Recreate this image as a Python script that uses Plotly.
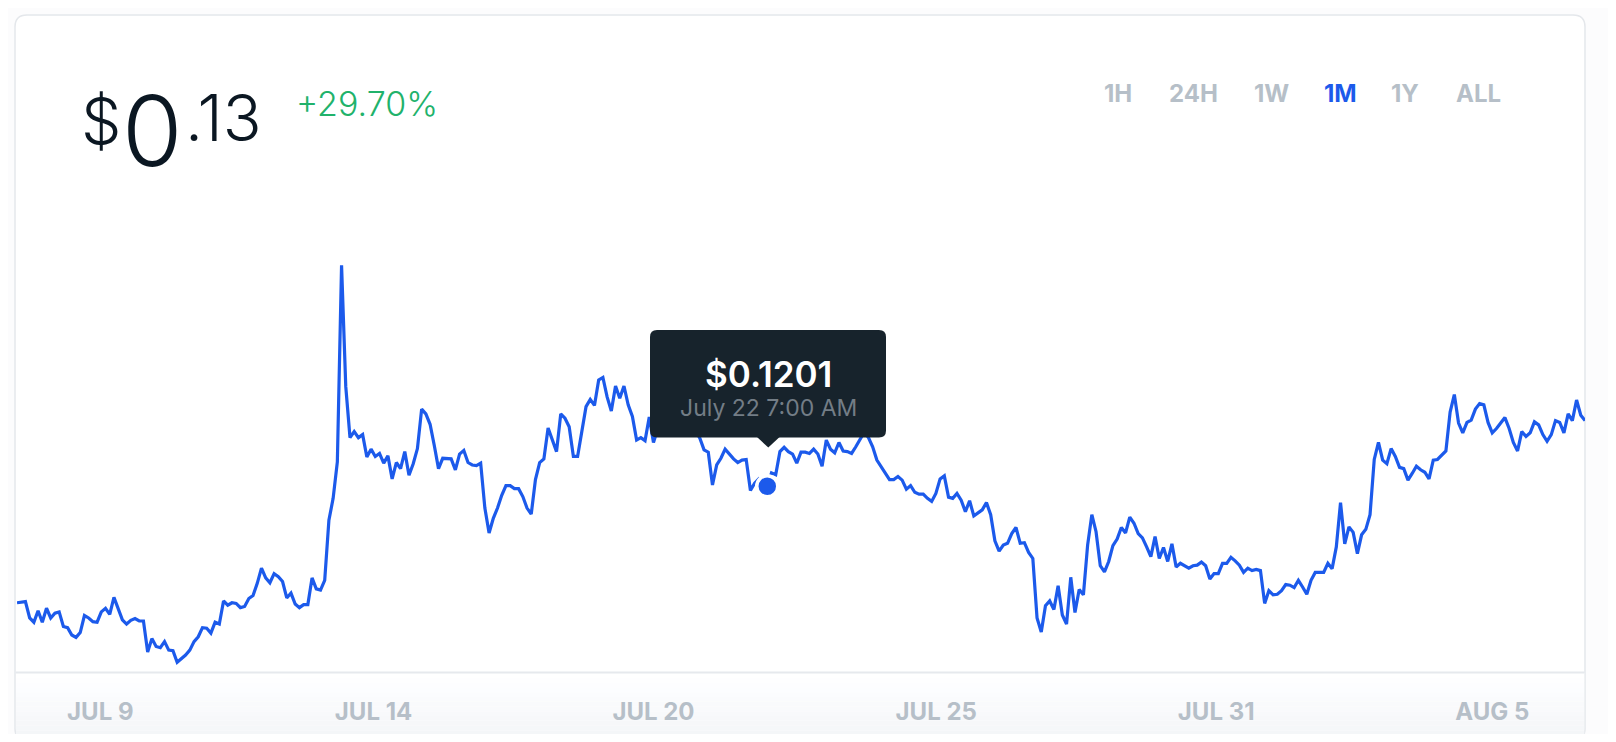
import plotly.graph_objects as go
import pandas as pd

# ---------------- data ----------------
start_time = "2018-07-07 11:00"
step = "2h"
price = [
    0.1009, 0.1010, 0.1011, 0.0984, 0.0977, 0.0996, 0.0977, 0.1000, 0.0984, 0.0992,
    0.0994, 0.0970, 0.0968, 0.0956, 0.0952, 0.0960, 0.0988, 0.0984, 0.0978, 0.0977,
    0.0994, 0.1000, 0.0990, 0.1018, 0.1000, 0.0981, 0.0974, 0.0980, 0.0983, 0.0979,
    0.0979, 0.0928, 0.0950, 0.0937, 0.0935, 0.0945, 0.0931, 0.0930, 0.0911, 0.0917,
    0.0923, 0.0931, 0.0945, 0.0953, 0.0968, 0.0967, 0.0959, 0.0977, 0.0974, 0.1012,
    0.1005, 0.1009, 0.1008, 0.1001, 0.1003, 0.1016, 0.1021, 0.1041, 0.1066, 0.1050,
    0.1042, 0.1057, 0.1052, 0.1044, 0.1017, 0.1025, 0.1007, 0.1001, 0.1006, 0.1006,
    0.1050, 0.1032, 0.1030, 0.1046, 0.1145, 0.1181, 0.1241, 0.1565, 0.1365, 0.1281,
    0.1291, 0.1281, 0.1286, 0.1249, 0.1262, 0.1250, 0.1255, 0.1239, 0.1251, 0.1213,
    0.1240, 0.1230, 0.1258, 0.1219, 0.1238, 0.1263, 0.1328, 0.1320, 0.1303, 0.1268,
    0.1230, 0.1247, 0.1247, 0.1246, 0.1228, 0.1254, 0.1260, 0.1240, 0.1236, 0.1235,
    0.1239, 0.1165, 0.1124, 0.1148, 0.1165, 0.1186, 0.1202, 0.1202, 0.1197, 0.1197,
    0.1184, 0.1165, 0.1155, 0.1212, 0.1240, 0.1246, 0.1297, 0.1277, 0.1258, 0.1320,
    0.1313, 0.1299, 0.1250, 0.1250, 0.1291, 0.1332, 0.1344, 0.1334, 0.1376, 0.1380,
    0.1348, 0.1325, 0.1366, 0.1346, 0.1366, 0.1335, 0.1316, 0.1277, 0.1281, 0.1276,
    0.1315, 0.1273, 0.1295, 0.1310, 0.1302, 0.1318, 0.1325, 0.1312, 0.1320, 0.1308,
    0.1300, 0.1292, 0.1280, 0.1261, 0.1257, 0.1203, 0.1236, 0.1247, 0.1262, 0.1254,
    0.1246, 0.1240, 0.1244, 0.1245, 0.1194, 0.1206, 0.1213, 0.1208, 0.1201, 0.1223,
    0.1220, 0.1258, 0.1265, 0.1258, 0.1254, 0.1239, 0.1257, 0.1257, 0.1255, 0.1262,
    0.1254, 0.1234, 0.1277, 0.1262, 0.1256, 0.1273, 0.1259, 0.1258, 0.1255, 0.1266,
    0.1278, 0.1290, 0.1281, 0.1266, 0.1244, 0.1234, 0.1222, 0.1212, 0.1212, 0.1217,
    0.1211, 0.1196, 0.1202, 0.1191, 0.1188, 0.1188, 0.1181, 0.1176, 0.1189, 0.1213,
    0.1218, 0.1183, 0.1181, 0.1189, 0.1178, 0.1159, 0.1177, 0.1152, 0.1157, 0.1162,
    0.1174, 0.1154, 0.1111, 0.1094, 0.1104, 0.1107, 0.1123, 0.1133, 0.1107, 0.1108,
    0.1092, 0.1082, 0.0984, 0.0961, 0.1004, 0.1012, 0.0998, 0.1037, 0.0989, 0.0974,
    0.1051, 0.0993, 0.1031, 0.1022, 0.1104, 0.1154, 0.1126, 0.1070, 0.1060, 0.1077,
    0.1103, 0.1114, 0.1133, 0.1124, 0.1150, 0.1140, 0.1123, 0.1116, 0.1101, 0.1085,
    0.1118, 0.1082, 0.1100, 0.1077, 0.1106, 0.1068, 0.1074, 0.1070, 0.1066, 0.1070,
    0.1071, 0.1076, 0.1070, 0.1048, 0.1057, 0.1057, 0.1074, 0.1074, 0.1084, 0.1078,
    0.1071, 0.1059, 0.1066, 0.1062, 0.1064, 0.1062, 0.1008, 0.1029, 0.1022, 0.1023,
    0.1029, 0.1039, 0.1038, 0.1034, 0.1046, 0.1035, 0.1023, 0.1046, 0.1059, 0.1059,
    0.1059, 0.1074, 0.1065, 0.1101, 0.1174, 0.1106, 0.1134, 0.1125, 0.1090, 0.1121,
    0.1130, 0.1154, 0.1245, 0.1273, 0.1244, 0.1238, 0.1263, 0.1250, 0.1232, 0.1230,
    0.1211, 0.1222, 0.1234, 0.1228, 0.1224, 0.1213, 0.1244, 0.1245, 0.1252, 0.1259,
    0.1323, 0.1352, 0.1305, 0.1289, 0.1306, 0.1310, 0.1328, 0.1337, 0.1335, 0.1306,
    0.1289, 0.1296, 0.1305, 0.1314, 0.1296, 0.1273, 0.1259, 0.1291, 0.1283, 0.1289,
    0.1307, 0.1302, 0.1286, 0.1275, 0.1286, 0.1309, 0.1306, 0.1289, 0.1320, 0.1309,
    0.1343, 0.1318, 0.1309,
]

hover_time = "2018-07-22 07:00"
hover_price = 0.1201
hover_price_text = "$0.1201"
hover_date_text = "July 22 7:00 AM"

tick_times = ["2018-07-09 02:30", "2018-07-14 12:10", "2018-07-20 01:00",
              "2018-07-25 15:10", "2018-07-31 04:00", "2018-08-05 15:00"]
tick_labels = ["JUL 9", "JUL 14", "JUL 20", "JUL 25", "JUL 31", "AUG 5"]

price_symbol = "$"
price_int = "0"
price_dec = ".13"
change_text = "+29.70%"
range_labels = ["1H", "24H", "1W", "1M", "1Y", "ALL"]
active_range = "1M"

times = pd.date_range(start_time, periods=len(price), freq=step)

# ---------------- layout helpers ----------------
# the page has an 8px body margin; the figure is placed at page (8, 8)
OFF = 8
W, H = 1600, 726
ML, MR, MT, MB = 9, 23, 232, 62
PW = W - ML - MR
PH = H - MT - MB


def px(x):
    """page x pixel -> paper x"""
    return (x - OFF - ML) / PW


def py(y):
    """page y pixel -> paper y"""
    return (H - MB - (y - OFF)) / PH


def rounded_path(x0, y0, x1, y1, r):
    pts = [
        ("M", [(x0 + r, y0)]), ("L", [(x1 - r, y0)]), ("Q", [(x1, y0), (x1, y0 + r)]),
        ("L", [(x1, y1 - r)]), ("Q", [(x1, y1), (x1 - r, y1)]), ("L", [(x0 + r, y1)]),
        ("Q", [(x0, y1), (x0, y1 - r)]), ("L", [(x0, y0 + r)]), ("Q", [(x0, y0), (x0 + r, y0)]),
    ]
    s = ""
    for cmd, ps in pts:
        s += cmd + " " + " ".join(f"{px(a):.6f},{py(b):.6f}" for a, b in ps) + " "
    return s + "Z"


BLUE = "#1c5aeb"
GRAY = "#b6bfc8"

fig = go.Figure()
fig.add_trace(go.Scatter(
    x=times, y=price, mode="lines",
    line=dict(color=BLUE, width=3.2), hoverinfo="skip", showlegend=False,
))
fig.add_trace(go.Scatter(
    x=[pd.Timestamp(hover_time)], y=[hover_price], mode="markers",
    marker=dict(color=BLUE, size=21, line=dict(color="white", width=3.5)),
    hoverinfo="skip", showlegend=False,
))

shapes = []
# card
shapes.append(dict(type="path", xref="paper", yref="paper", layer="below",
                   path=rounded_path(15, 15, 1585, 740.5, 12),
                   fillcolor="white", line=dict(color="#e4e7eb", width=1.5)))
# x-axis band with vertical gradient
n = 14
y_top, y_bot = 673.0, 740.0
for i in range(n):
    t = i / (n - 1)
    c = int(round(255 - 12 * t))
    c2 = int(round(255 - 10 * t))
    ya = y_top + (y_bot - y_top) * i / n
    yb = y_top + (y_bot - y_top) * (i + 1) / n
    shapes.append(dict(type="rect", xref="paper", yref="paper", layer="below",
                       x0=px(16), x1=px(1584.3), y0=py(ya), y1=py(yb),
                       fillcolor=f"rgb({c},{c2},{min(255, c2 + 2)})", line=dict(width=0)))
shapes.append(dict(type="line", xref="paper", yref="paper", layer="below",
                   x0=px(15.5), x1=px(1584.5), y0=py(672.5), y1=py(672.5),
                   line=dict(color="#e6e9ed", width=2)))
shapes.append(dict(type="line", xref="paper", yref="paper", layer="below",
                   x0=px(15.5), x1=px(1584.5), y0=py(740), y1=py(740),
                   line=dict(color="#e0e3e7", width=1.5)))
# tooltip
TIP = "#17232c"
shapes.append(dict(type="path", xref="paper", yref="paper", layer="above",
                   path=rounded_path(650, 330, 886, 437.5, 7),
                   fillcolor=TIP, line=dict(width=0)))
tri = (f"M {px(757):.6f},{py(437):.6f} L {px(768.3):.6f},{py(447.5):.6f} "
       f"L {px(779.6):.6f},{py(437):.6f} Z")
shapes.append(dict(type="path", xref="paper", yref="paper", layer="above",
                   path=tri, fillcolor=TIP, line=dict(width=0)))

ann = []
DARK = "#0b1722"


def add_text(text, x, y, size, color, xanchor="left", weight=400, family="Inter"):
    ann.append(dict(text=text, x=px(x), y=py(y), xref="paper", yref="paper",
                    xanchor=xanchor, yanchor="middle", showarrow=False,
                    font=dict(family=family, size=size, color=color, weight=weight)))


add_text(price_symbol, 79, 120, 64, DARK, weight=300)
add_text(price_int, 152, 131, 98, DARK, xanchor="center", weight=300)
add_text(price_dec, 183, 118, 64, DARK, weight=300)
add_text(change_text, 294, 103, 34, "#21b26b", weight=300)

btn_x = [1118, 1193, 1271, 1340, 1405, 1478]
for lab, bx in zip(range_labels, btn_x):
    add_text(lab, bx, 93.5, 24, BLUE if lab == active_range else GRAY,
             xanchor="center", weight=700)

add_text(hover_price_text, 768, 374, 35, "white", xanchor="center", weight=600)
add_text(hover_date_text, 768, 407.5, 23, "#737d86", xanchor="center", weight=400)

fig.update_layout(
    width=W, height=H,
    margin=dict(l=ML, r=MR, t=MT, b=MB, pad=0),
    paper_bgcolor="#fcfcfd", plot_bgcolor="rgba(0,0,0,0)",
    shapes=shapes, annotations=ann, showlegend=False,
    xaxis=dict(range=[times[0], times[-1]], showgrid=False, zeroline=False,
               showline=False, ticks="", tickmode="array",
               tickvals=[pd.Timestamp(t) for t in tick_times], ticktext=tick_labels,
               tickfont=dict(family="Inter", size=24, color=GRAY, weight=700),
               ticklabelstandoff=23, fixedrange=True),
    yaxis=dict(range=[0.0895, 0.16065], visible=False, fixedrange=True),
    hovermode=False,
)

fig.write_html("out.html")
